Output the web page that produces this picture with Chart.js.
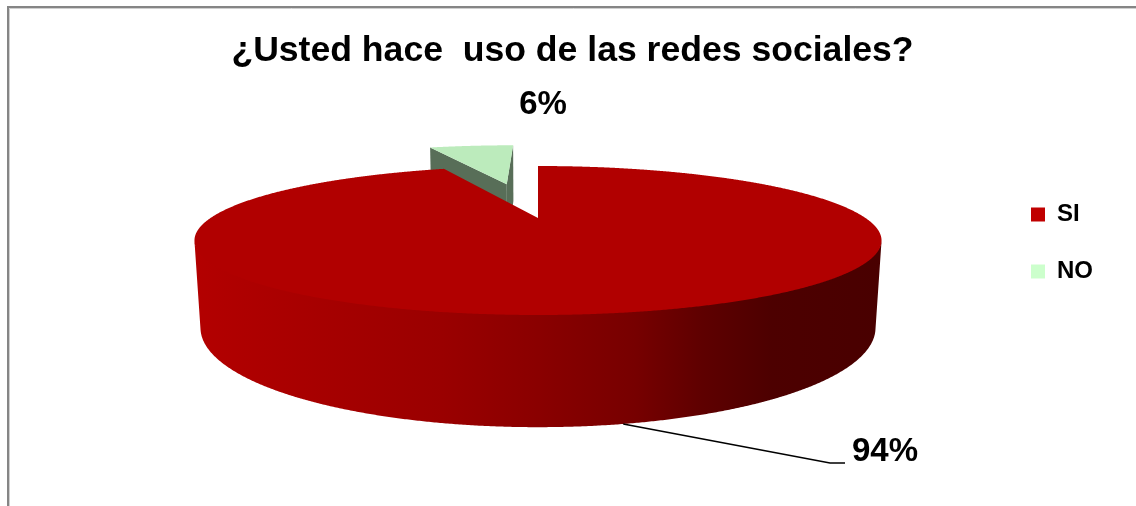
<!DOCTYPE html>
<html>
<head>
<meta charset="utf-8">
<script src="https://cdn.jsdelivr.net/npm/chart.js@4.4.1/dist/chart.umd.min.js"></script>
<style>
  html, body { margin: 0; padding: 0; background: #fff; overflow: hidden; }
  #wrap { width: 1136px; height: 506px; }
</style>
</head>
<body>
<div id="wrap"><canvas id="c" width="1136" height="506"></canvas></div>
<script>
// ---- data ----
const TITLE = '¿Usted hace  uso de las redes sociales?';
const categories = ['SI', 'NO'];
const percentages = [94, 6];

// ---- styling ----
const sliceColors = ['#c00000', '#ccffcc'];
const explode = [0, 0.6];            // slice pull-out, in pie radii

// 3D camera for the pie: tilt in degrees, distance and thickness in radii
const VIEW = { cx: 538, cy: 218, scale: 327.5, tilt: 11.93, dist: 3.24, depth: 0.255 };

// value labels, placed relative to the pie centre
const labelPlacement = [
  { dx: 347, dy: 234, leader: { elbow: [-55, 11], end: [-40, 11] } },
  { dx: 5, dy: -113 }
];

// side wall shading from left to right (fraction of base colour)
const wallShade = [[0, 0.93], [0.36, 0.8], [0.5, 0.72], [0.64, 0.62], [0.74, 0.49], [0.84, 0.40], [1, 0.38]];

function rgbOf(hex) {
  const n = parseInt(hex.slice(1), 16);
  return [(n >> 16) & 255, (n >> 8) & 255, n & 255];
}
function shade(hex, f) {
  const [r, g, b] = rgbOf(hex);
  return `rgb(${Math.round(r * f)},${Math.round(g * f)},${Math.round(b * f)})`;
}

const frame = {
  id: 'frame',
  beforeDraw(chart) {
    const ctx = chart.ctx;
    ctx.save();
    ctx.fillStyle = '#fff';
    ctx.fillRect(0, 0, chart.width, chart.height);
    ctx.strokeStyle = '#858585';
    ctx.lineWidth = 2;
    ctx.beginPath();
    ctx.moveTo(8, chart.height + 5);
    ctx.lineTo(8, 7);
    ctx.lineTo(chart.width + 5, 7);
    ctx.stroke();
    ctx.strokeStyle = '#cfcfcf';
    ctx.lineWidth = 1;
    ctx.beginPath();
    ctx.moveTo(9.5, chart.height + 5);
    ctx.lineTo(9.5, 8.5);
    ctx.lineTo(chart.width + 5, 8.5);
    ctx.stroke();
    ctx.restore();
  }
};

const pie3d = {
  id: 'pie3d',
  beforeDatasetsDraw(chart) {
    const ctx = chart.ctx;
    const meta = chart.getDatasetMeta(0);
    const ds = chart.data.datasets[0];
    const V = VIEW;
    const sa = Math.sin(V.tilt * Math.PI / 180), ca = Math.cos(V.tilt * Math.PI / 180);
    const T = V.depth;
    const P = (u, v, h) => {
      const d = h * sa + v * ca;
      const k = V.dist / (V.dist - d);
      return [V.cx + V.scale * u * k, V.cy - V.scale * (h * ca - v * sa) * k];
    };
    const camV = V.dist * ca;

    // horizontal extent of the disc for the wall gradient
    let minX = Infinity, maxX = -Infinity;
    for (let a = 0; a < 360; a += 0.5) {
      const r = a * Math.PI / 180;
      const [x] = P(Math.cos(r), Math.sin(r), 0);
      minX = Math.min(minX, x); maxX = Math.max(maxX, x);
    }

    const slices = meta.data.map((arc, i) => {
      const a1 = arc.startAngle, a2 = arc.endAngle, mid = (a1 + a2) / 2;
      const e = ds.explode[i] || 0;
      return { i, a1, a2, mid, ou: Math.cos(mid) * e, ov: Math.sin(mid) * e, color: ds.backgroundColor[i] };
    });
    const order = slices.slice().sort((a, b) => a.ov - b.ov);

    const poly = (pts, fill) => {
      ctx.beginPath();
      ctx.moveTo(pts[0][0], pts[0][1]);
      for (let j = 1; j < pts.length; j++) ctx.lineTo(pts[j][0], pts[j][1]);
      ctx.closePath();
      ctx.fillStyle = fill;
      ctx.fill();
    };

    ctx.save();
    for (const s of order) {
      const { a1, a2, ou, ov, color } = s;
      // radial cut faces
      const edges = [
        { a: a1, n: [Math.sin(a1), -Math.cos(a1)] },
        { a: a2, n: [-Math.sin(a2), Math.cos(a2)] }
      ];
      if (a2 - a1 < Math.PI * 1.999) {
        for (const ed of edges) {
          const pu = ou + Math.cos(ed.a) * 0.5, pv = ov + Math.sin(ed.a) * 0.5;
          const vis = ed.n[0] * (0 - pu) + ed.n[1] * (camV - pv);
          if (vis > 0) {
            const ru = ou + Math.cos(ed.a), rv = ov + Math.sin(ed.a);
            poly([P(ou, ov, 0), P(ru, rv, 0), P(ru, rv, -T), P(ou, ov, -T)], shade(color, 0.43));
          }
        }
      }
      // outer curved wall, front-facing runs only
      const steps = Math.max(8, Math.ceil((a2 - a1) / (Math.PI / 720)));
      let run = [];
      const grad = ctx.createLinearGradient(minX, 0, maxX, 0);
      wallShade.forEach(([p, f]) => grad.addColorStop(p, shade(color, f)));
      const flush = () => {
        if (run.length > 1) {
          const top = run.map(a => P(ou + Math.cos(a), ov + Math.sin(a), 0.004));
          const bot = run.slice().reverse().map(a => P(ou + Math.cos(a), ov + Math.sin(a), -T));
          poly(top.concat(bot), grad);
        }
        run = [];
      };
      for (let j = 0; j <= steps; j++) {
        const a = a1 + (a2 - a1) * j / steps;
        const c = Math.cos(a), sn = Math.sin(a);
        const vis = c * (0 - ou - c) + sn * (camV - ov - sn);
        if (vis > 0) run.push(a); else flush();
      }
      flush();
      // top face
      const pts = [P(ou, ov, 0)];
      for (let j = 0; j <= steps; j++) {
        const a = a1 + (a2 - a1) * j / steps;
        pts.push(P(ou + Math.cos(a), ov + Math.sin(a), 0));
      }
      poly(pts, shade(color, 0.92));
    }

    // value labels
    const total = ds.data.reduce((t, v) => t + v, 0);
    ctx.fillStyle = '#000';
    ctx.font = 'bold 33px "Liberation Sans", Arial, sans-serif';
    ctx.textAlign = 'center';
    ctx.textBaseline = 'middle';
    slices.forEach((s, i) => {
      const lp = labelPlacement[i];
      const lx = V.cx + lp.dx, ly = V.cy + lp.dy;
      if (lp.leader) {
        const start = P(s.ou + Math.cos(s.mid), s.ov + Math.sin(s.mid), -T);
        ctx.strokeStyle = '#000';
        ctx.lineWidth = 1.6;
        ctx.beginPath();
        ctx.moveTo(start[0], start[1]);
        ctx.lineTo(lx + lp.leader.elbow[0], ly + lp.leader.elbow[1]);
        ctx.lineTo(lx + lp.leader.end[0], ly + lp.leader.end[1]);
        ctx.stroke();
      }
      ctx.fillText(Math.round(ds.data[i] / total * 100) + '%', lx, ly);
    });
    ctx.restore();
    return false;
  }
};

Chart.defaults.font.family = '"Liberation Sans", Arial, sans-serif';

new Chart(document.getElementById('c'), {
  type: 'pie',
  data: {
    labels: categories,
    datasets: [{
      data: percentages,
      backgroundColor: sliceColors,
      borderWidth: 0,
      explode: explode
    }]
  },
  options: {
    responsive: false,
    animation: false,
    events: [],
    layout: { padding: { left: 42, right: 33, top: 0, bottom: 20 } },
    plugins: {
      title: {
        display: true,
        text: TITLE,
        color: '#000',
        font: { size: 35.6, weight: 'bold' },
        padding: { top: 30, bottom: 10 }
      },
      legend: {
        position: 'right',
        labels: {
          color: '#000',
          boxWidth: 14,
          boxHeight: 14,
          padding: 33,
          font: { size: 24, weight: 'bold' }
        }
      },
      tooltip: { enabled: false }
    }
  },
  plugins: [frame, pie3d]
});
</script>
</body>
</html>
